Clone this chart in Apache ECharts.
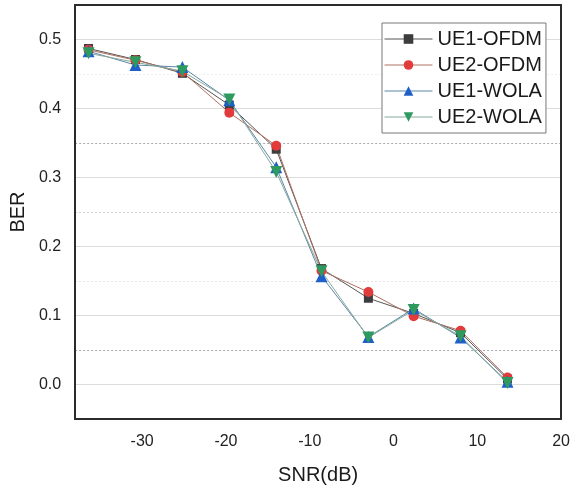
<!DOCTYPE html>
<html>
<head>
<meta charset="utf-8">
<script src="https://cdn.jsdelivr.net/npm/echarts@6/dist/echarts.min.js"></script>
<style>
  html, body { margin: 0; padding: 0; background: #fff; }
  #chart { width: 573px; height: 490px; }
</style>
</head>
<body>
<div id="chart"></div>
<script>
// SNR(dB) 取值
var snr = [-36.4, -30.8, -25.2, -19.6, -14.0, -8.6, -3.0, 2.4, 8.0, 13.6];
// 各曲线 BER
var ue1Ofdm = [0.487, 0.471, 0.451, 0.405, 0.341, 0.168, 0.125, 0.103, 0.075, 0.008];
var ue2Ofdm = [0.485, 0.470, 0.453, 0.394, 0.346, 0.165, 0.134, 0.099, 0.078, 0.010];
var ue1Wola = [0.483, 0.463, 0.460, 0.412, 0.315, 0.157, 0.069, 0.110, 0.068, 0.004];
var ue2Wola = [0.480, 0.467, 0.454, 0.413, 0.308, 0.164, 0.068, 0.108, 0.070, 0.002];
var names = ['UE1-OFDM', 'UE2-OFDM', 'UE1-WOLA', 'UE2-WOLA'];

var chart = echarts.init(document.getElementById('chart'));
var font = 'Liberation Sans, Arial, sans-serif';
var frame = { show: true, onZero: false, lineStyle: { color: '#2b2b2b', width: 2 } };

function pairs(ys) {
    return snr.map(function (x, i) { return [x, ys[i]]; });
}

function makeSeries(name, ys, symbol, size, symColor, lineColor) {
    return {
        name: name,
        type: 'line',
        data: pairs(ys),
        symbol: symbol,
        symbolSize: size,
        showAllSymbol: true,
        itemStyle: { color: symColor },
        lineStyle: { color: lineColor, width: 1 },
        emphasis: { disabled: true },
        animation: false
    };
}

var option = {
    backgroundColor: '#fff',
    textStyle: { fontFamily: font },
    grid: { left: 72, top: 5, right: 11, bottom: 69 },
    legend: {
        data: names,
        orient: 'vertical',
        left: 382, top: 23,
        itemWidth: 48, itemHeight: 12, itemGap: 6,
        padding: [6, 4, 6, 2],
        backgroundColor: '#fff',
        borderColor: '#777', borderWidth: 1, borderRadius: 0,
        lineStyle: { width: 1 },
        textStyle: { fontSize: 20, color: '#1a1a1a', fontFamily: font }
    },
    xAxis: [{
        type: 'value',
        min: -38, max: 20,
        splitNumber: 6,
        name: 'SNR(dB)',
        nameLocation: 'middle',
        nameGap: 46,
        nameTextStyle: { fontSize: 20, color: '#1a1a1a' },
        axisLine: frame,
        axisTick: { show: false },
        splitLine: { show: false },
        axisLabel: {
            fontSize: 16, color: '#222', margin: 15,
            formatter: function (v) { return v % 10 === 0 ? String(v) : ''; }
        }
    }, {
        // 顶部边框
        type: 'value', position: 'top',
        min: -38, max: 20,
        axisLine: frame,
        axisTick: { show: false },
        axisLabel: { show: false },
        splitLine: { show: false }
    }],
    yAxis: [{
        type: 'value',
        min: -0.05, max: 0.55,
        splitNumber: 6,
        name: 'BER',
        nameLocation: 'middle',
        nameGap: 41,
        nameTextStyle: { fontSize: 20, color: '#1a1a1a' },
        axisLine: frame,
        axisTick: { show: false },
        axisLabel: {
            fontSize: 16, color: '#222', margin: 14,
            showMinLabel: false, showMaxLabel: false,
            formatter: function (v) { return v.toFixed(1); }
        },
        splitLine: { lineStyle: { color: '#dcdcdc', width: 1 } }
    }, {
        // 虚线网格 0.05, 0.15 ... 以及右边框
        type: 'value',
        position: 'right',
        min: -0.05, max: 0.55,
        interval: 0.1,
        axisLine: frame,
        axisTick: { show: false },
        axisLabel: { show: false },
        splitLine: {
            lineStyle: {
                color: ['transparent', '#a8a8a8', '#e2e2e2', '#cfcfcf', '#a8a8a8', '#eeeeee', 'transparent'],
                type: [2, 2], width: 1
            }
        }
    }],
    series: [
        makeSeries(names[0], ue1Ofdm, 'rect', 9, '#3d3d3d', '#555555'),
        makeSeries(names[1], ue2Ofdm, 'circle', 10, '#e23b3b', '#b07060'),
        makeSeries(names[2], ue1Wola, 'triangle', 12, '#1f5fc8', '#5a87a8'),
        makeSeries(names[3], ue2Wola, 'path://M0,0 L10,0 L5,9 Z', 12, '#2f9a60', '#88aa9c')
    ]
};
chart.setOption(option);
</script>
</body>
</html>
